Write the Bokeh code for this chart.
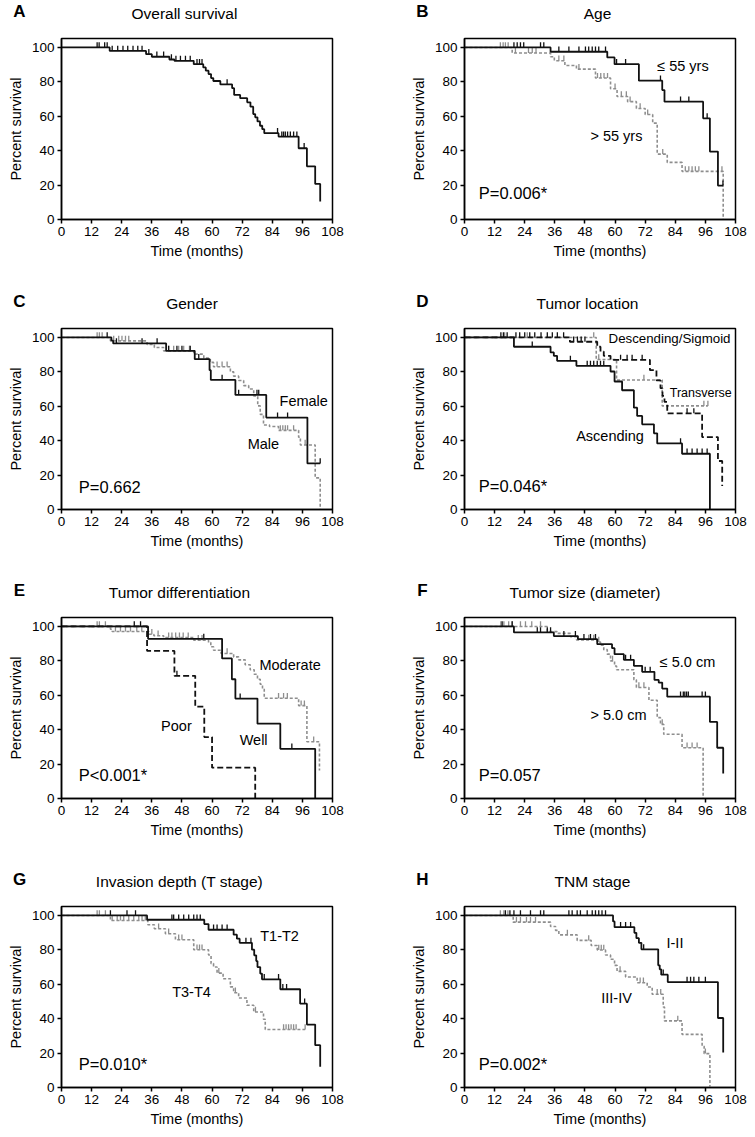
import numpy as np
from bokeh.plotting import figure
from bokeh.layouts import gridplot
from bokeh.models import Label, FixedTicker, Range1d, LinearAxis, Title
from bokeh.embed import file_html
from bokeh.resources import INLINE

# ---------------- data (months, percent survival) ----------------
x_ticks = [0, 12, 24, 36, 48, 60, 72, 84, 96, 108]
y_ticks = [0, 20, 40, 60, 80, 100]

# A  Overall survival
A_t = [19.2, 33.7, 36.0, 43.0, 45.0, 52.7, 56.5, 57.5, 58.6, 59.6, 60.5, 63.3, 68.0, 68.8, 71.2, 74.0, 75.3, 76.4,
       77.2, 78.1, 79.1, 80.0, 80.8, 86.5, 94.5, 97.8, 101.1, 103.1]
A_s = [98.0, 96.1, 94.6, 93.0, 92.2, 90.3, 88.4, 86.5, 84.5, 82.2, 80.5, 78.5, 76.3, 72.4, 70.5, 68.1, 65.6, 61.3,
       59.4, 57.0, 54.5, 52.5, 50.2, 48.2, 41.4, 30.9, 20.7, 10.4]
A_c = [14.2, 15.0, 17.2, 18.2, 20.2, 22.4, 24.5, 26.4, 28.5, 30.4, 32.1, 34.8, 38.0, 40.7, 43.8, 45.6, 47.4, 49.4,
       51.3, 54.0, 55.0, 56.0, 66.0, 86.1, 87.8, 88.5, 89.2, 90.1, 91.2, 92.5, 93.8, 96.7]

# B  Age
B_young_t = [34.3, 56.9, 59.8, 69.5, 78.8, 79.7, 95.1, 97.8, 101.0]
B_young_s = [97.5, 94.2, 90.3, 80.7, 75.2, 68.5, 58.8, 39.5, 19.7]
B_young_c = [19.7, 21.0, 22.3, 23.6, 30.3, 31.6, 37.6, 41.6, 45.6, 48.2, 49.5, 50.9, 52.2, 53.5, 56.2, 60.6, 64.2,
             78.1, 86.1, 89.4, 96.7, 103.0]
B_old_t = [19.0, 34.3, 35.8, 40.0, 44.6, 52.2, 58.2, 60.8, 65.0, 68.5, 72.0, 75.0, 76.8, 80.8, 86.7, 103.1]
B_old_s = [96.8, 94.6, 92.3, 89.5, 87.4, 82.2, 76.0, 71.5, 68.5, 64.5, 61.0, 56.0, 38.0, 33.2, 28.0, 0.0]
B_old_c = [14.3, 15.4, 16.3, 17.4, 20.3, 25.5, 27.0, 28.5, 37.6, 39.6, 45.6, 53.0, 54.3, 55.6, 57.0, 60.0, 62.5,
           64.5, 66.0, 70.0, 73.0, 79.0, 88.0, 89.4, 90.7, 92.0, 93.4, 102.6]

# C  Gender
C_female_t = [19.9, 20.6, 41.7, 53.1, 59.0, 59.5, 69.3, 81.6, 98.0]
C_female_s = [98.1, 96.5, 92.2, 87.4, 81.0, 75.3, 66.6, 53.4, 26.8]
C_female_c = [18.2, 21.9, 32.1, 38.1, 42.7, 46.0, 48.0, 51.3, 54.7, 64.0, 70.6, 77.9, 78.6, 86.1, 90.1, 103.1]
C_male_t = [19.5, 34.1, 37.0, 40.7, 52.7, 56.7, 59.3, 60.6, 67.3, 68.6, 70.6, 72.6, 74.6, 76.6, 78.2, 79.2, 80.5,
            82.9, 86.5, 94.5, 95.2, 101.1, 103.1]
C_male_s = [98.0, 96.0, 94.2, 92.2, 90.3, 88.0, 85.5, 83.0, 80.0, 77.5, 75.0, 72.0, 70.0, 66.0, 60.2, 55.3, 49.1,
            48.2, 46.0, 42.0, 37.5, 18.4, 0.0]
C_male_c = [14.2, 15.1, 16.2, 20.8, 22.8, 24.1, 25.5, 26.8, 42.7, 44.7, 46.7, 48.7, 51.0, 62.0, 64.0, 66.0, 87.2,
            88.2, 89.2, 90.1, 92.5, 97.1]

# D  Tumor location
D_asc_t = [19.7, 34.3, 35.6, 36.9, 44.6, 58.2, 59.8, 62.8, 67.5, 68.8, 70.8, 75.5, 76.8, 86.7, 97.8]
D_asc_s = [94.6, 91.3, 89.3, 86.4, 83.5, 80.2, 74.4, 69.3, 59.2, 54.4, 49.5, 44.3, 38.4, 32.4, 0.0]
D_asc_c = [27.0, 42.2, 48.9, 50.2, 51.5, 52.9, 54.2, 55.5, 86.1, 88.7, 90.7, 92.7, 94.7, 96.7]
D_trans_t = [52.5, 60.6, 78.8]
D_trans_s = [87.2, 75.3, 60.2]
D_trans_c = [16.0, 25.0, 51.5, 53.5, 71.5, 95.4, 97.0]
D_desc_t = [42.0, 52.9, 54.2, 55.5, 58.2, 73.9, 76.5, 78.1, 78.9, 79.7, 80.8, 94.7, 101.0, 102.7]
D_desc_s = [97.5, 94.6, 91.8, 89.3, 87.0, 81.0, 75.1, 70.5, 66.0, 62.5, 55.9, 42.1, 28.2, 13.6]
D_desc_c = [14.5, 15.5, 17.0, 20.5, 22.0, 24.0, 26.0, 28.0, 30.5, 33.0, 35.0, 37.0, 39.5, 43.5, 45.0, 46.5, 48.0,
            62.2, 64.8, 66.8, 70.8, 88.7, 91.4]

# E  Tumor differentiation
E_well_t = [34.5, 64.0, 67.9, 69.3, 78.1, 87.2, 101.1]
E_well_s = [92.8, 81.4, 69.3, 58.1, 43.5, 28.9, 0.0]
E_well_c = [29.0, 31.5, 56.7, 71.2, 91.8]
E_mod_t = [19.5, 20.2, 34.8, 36.8, 40.7, 52.7, 58.6, 59.5, 60.6, 63.6, 68.6, 70.6, 73.2, 75.2, 76.8, 78.1, 79.2,
           80.1, 80.8, 94.5, 97.8, 102.8]
E_mod_s = [98.4, 97.1, 95.5, 94.6, 93.5, 92.0, 90.7, 88.2, 86.2, 84.3, 82.3, 80.6, 77.7, 74.8, 72.2, 69.3, 66.4,
           63.5, 58.3, 54.0, 33.0, 16.3]
E_mod_c = [14.2, 15.1, 17.5, 21.5, 23.5, 25.5, 27.5, 30.0, 32.0, 36.0, 38.5, 42.7, 44.0, 45.5, 47.0, 48.5, 50.5,
           54.5, 56.0, 66.0, 86.5, 88.5, 90.0, 95.5, 96.8, 100.5]
E_poor_t = [34.1, 45.0, 53.3, 56.9, 60.0, 77.2]
E_poor_s = [85.8, 71.3, 53.4, 35.7, 17.9, 0.0]
E_poor_c = [46.0]

# F  Tumor size
F_small_t = [19.7, 35.6, 45.2, 52.9, 58.8, 59.8, 63.5, 67.5, 70.8, 75.7, 77.4, 78.8, 80.8, 97.8, 100.7, 103.1]
F_small_s = [96.5, 94.4, 92.6, 89.7, 87.4, 83.9, 80.6, 77.1, 73.6, 68.9, 67.4, 63.9, 59.2, 44.5, 29.5, 14.6]
F_small_c = [15.0, 19.0, 29.0, 30.3, 33.0, 34.3, 39.6, 44.2, 47.6, 50.2, 52.2, 64.2, 66.2, 72.0, 74.0, 86.1, 87.2,
             87.8, 88.5, 89.2, 94.7, 96.0]
F_big_t = [33.0, 36.9, 42.2, 44.6, 52.9, 54.2, 55.5, 56.9, 58.2, 59.8, 60.6, 67.5, 68.5, 73.5, 76.8, 78.1, 79.4,
           86.7, 95.1]
F_big_s = [97.0, 96.0, 94.0, 92.2, 91.0, 89.1, 86.5, 83.9, 80.0, 77.0, 74.8, 69.0, 64.5, 57.1, 47.0, 43.1, 37.3,
           29.5, 0.0]
F_big_c = [14.5, 15.7, 17.6, 19.0, 22.3, 24.3, 26.8, 30.3, 49.5, 51.5, 53.5, 59.0, 69.5, 71.5, 78.8, 88.7, 90.7,
           92.7]

# G  Invasion depth
G_t12_t = [34.1, 56.9, 58.6, 68.6, 69.9, 71.0, 75.9, 76.8, 77.6, 78.1, 79.2, 79.9, 87.2, 95.1, 97.8, 101.1, 103.1]
G_t12_s = [97.5, 95.0, 91.7, 88.8, 86.5, 84.1, 80.1, 76.8, 73.5, 70.0, 66.2, 62.9, 57.1, 48.7, 36.6, 24.6, 12.0]
G_t12_c = [19.5, 26.1, 29.5, 44.0, 44.7, 46.7, 48.7, 50.7, 52.7, 54.0, 55.3, 60.6, 62.0, 64.0, 66.0, 73.5, 75.5,
           80.8, 86.5, 88.2, 89.7, 96.9]
G_t34_t = [19.5, 34.4, 37.0, 41.4, 45.4, 52.7, 58.6, 59.6, 60.6, 62.0, 64.4, 67.3, 68.6, 70.6, 73.9, 76.6, 80.5,
           81.2]
G_t34_s = [97.1, 94.6, 92.3, 89.4, 85.9, 80.1, 77.0, 72.0, 70.0, 66.5, 63.2, 58.5, 55.1, 52.0, 47.8, 43.9, 39.7,
           33.7]
G_t34_c = [14.2, 15.1, 17.5, 20.2, 22.2, 23.5, 24.8, 26.8, 28.8, 30.8, 32.1, 33.4, 38.7, 42.7, 46.7, 48.0, 54.0,
           55.0, 56.0, 62.7, 69.3, 77.3, 88.5, 89.5, 90.5, 91.5, 92.5, 93.5, 97.1]

# H  TNM stage
H_early_t = [59.2, 59.8, 67.7, 68.5, 69.5, 70.5, 77.2, 77.8, 78.4, 81.0, 101.0, 103.1]
H_early_s = [96.5, 93.2, 89.9, 86.8, 84.1, 80.3, 71.0, 68.7, 65.6, 61.3, 40.4, 20.3]
H_early_c = [16.3, 18.1, 19.7, 22.3, 26.3, 30.3, 31.6, 41.6, 42.9, 44.9, 46.2, 48.9, 50.9, 52.2, 53.5, 54.8, 56.2,
             62.2, 64.2, 66.2, 71.4, 79.2, 88.7, 90.1, 91.4, 93.4, 96.0]
H_late_t = [19.4, 34.3, 36.3, 37.6, 44.9, 50.5, 52.9, 56.2, 58.2, 59.8, 60.8, 64.2, 68.8, 72.8, 74.8, 79.2, 79.7,
            86.7, 94.7, 95.5, 97.8]
H_late_s = [96.1, 93.6, 91.3, 88.7, 85.5, 82.5, 79.9, 77.0, 74.5, 71.0, 67.5, 64.2, 60.9, 58.4, 54.2, 46.8, 38.7,
            30.9, 24.0, 19.7, 0.0]
H_late_c = [14.3, 15.7, 17.3, 20.7, 22.3, 24.7, 26.3, 28.3, 41.0, 49.5, 53.5, 54.5, 55.5, 62.0, 70.0, 71.3, 76.8,
            78.2, 85.0, 96.0]

# ---------------- styling ----------------
FONT = "Liberation Sans"
BLACK = "#111111"
GRAY = "#8e8e8e"
SOLID = dict(color=BLACK, dash="solid", width=1.8)
DASHB = dict(color=BLACK, dash="6 3", width=1.8)
DOTG = dict(color=GRAY, dash="3 2", width=1.6)

W = [377, 378]
H = [290, 289, 289, 268]
BL = [61, 87]
BR = [45, 20]
BT = 38
FH = 181
NAME_STANDOFF = 17
LETTER_STANDOFF = -39
LETTER_SIZE = 17


def km_path(evt_t, evt_s, cens):
    end = max(evt_t[-1], max(cens) if cens else 0.0)
    xs, ys, cur = [0.0], [100.0], 100.0
    for t, s in zip(evt_t, evt_s):
        xs += [t, t]
        ys += [cur, s]
        cur = s
    xs.append(end)
    ys.append(cur)
    return xs, ys


def surv_at(evt_t, evt_s, times):
    idx = np.searchsorted(np.array(evt_t), np.array(times), side="right")
    full = np.concatenate([[100.0], np.array(evt_s)])
    return full[idx]


def name_axis(tick, text):
    ax = LinearAxis(ticker=FixedTicker(ticks=[tick]), bounds=(tick - 0.5, tick + 0.5),
                    major_label_overrides={tick: text})
    ax.axis_line_color = None
    ax.major_tick_line_color = None
    ax.minor_tick_line_color = None
    ax.major_tick_out = 0
    ax.major_tick_in = 0
    ax.minor_tick_out = 0
    ax.minor_tick_in = 0
    ax.major_label_standoff = NAME_STANDOFF
    ax.major_label_text_font = FONT
    ax.major_label_text_font_size = "15.5px"
    ax.major_label_text_color = "black"
    return ax


def make_panel(letter, letter_w, title, title_x, row, col, series, texts):
    p = figure(width=W[col], height=H[row], x_range=Range1d(0, 108), y_range=Range1d(0, 105.2),
               output_backend="svg", toolbar_location=None, title=None,
               min_border_left=BL[col], min_border_right=BR[col], min_border_top=BT,
               min_border_bottom=H[row] - BT - FH)
    p.grid.visible = False
    p.outline_line_color = "black"
    p.outline_line_width = 1.5
    p.outline_line_alpha = 1.0
    xa = p.below[0]
    ya = p.left[0]
    xa.ticker = FixedTicker(ticks=x_ticks)
    ya.ticker = FixedTicker(ticks=y_ticks)
    for ax in (xa, ya):
        ax.axis_line_color = "black"
        ax.axis_line_width = 1.5
        ax.major_tick_line_color = "black"
        ax.major_tick_line_width = 1.5
        ax.major_tick_out = 4
        ax.major_tick_in = 0
        ax.minor_tick_line_color = None
        ax.major_label_text_font = FONT
        ax.major_label_text_font_size = "13.5px"
        ax.major_label_text_color = "black"
        ax.major_label_standoff = 3
        ax.axis_label_text_font = FONT
        ax.axis_label_text_font_size = "14.5px"
        ax.axis_label_text_font_style = "normal"
        ax.axis_label_text_color = "black"
    xa.axis_label = "Time (months)"
    xa.axis_label_standoff = 4
    ya.axis_label = "Percent survival"
    ya.axis_label_standoff = 5

    # panel title (tick label of a bare axis) and panel letter (title pulled down onto the same line)
    p.add_layout(name_axis(title_x, title), "above")
    p.add_layout(Title(text=letter, align="left", offset=-42 - letter_w * LETTER_SIZE / 2,
                       vertical_align="bottom", standoff=LETTER_STANDOFF, text_font=FONT,
                       text_font_size=f"{LETTER_SIZE}px", text_font_style="bold", text_color="black"),
                 "above")

    for evt_t, evt_s, cens, st in series:
        xs, ys = km_path(evt_t, evt_s, cens)
        p.line(xs, ys, line_color=st["color"], line_width=st["width"], line_dash=st["dash"])
        if cens:
            cy = surv_at(evt_t, evt_s, cens)
            p.segment(x0=cens, y0=cy, x1=cens, y1=cy + 3.0, line_color=st["color"], line_width=1.3)

    for (tx, ty, txt, size) in texts:
        p.add_layout(Label(x=tx, y=ty, text=txt, text_font=FONT, text_font_size=size,
                           text_baseline="middle", text_align="left", text_color="black"))
    return p


pA = make_panel("A", 0.722, "Overall survival", 49, 0, 0,
                [(A_t, A_s, A_c, SOLID)], [])
pB = make_panel("B", 0.722, "Age", 53, 0, 1,
                [(B_old_t, B_old_s, B_old_c, DOTG), (B_young_t, B_young_s, B_young_c, SOLID)],
                [(76.8, 89.4, "\u2264 55 yrs", "14.5px"), (50.2, 48.7, "> 55 yrs", "14.5px"),
                 (5.7, 15.3, "P=0.006*", "16.5px")])
pC = make_panel("C", 0.722, "Gender", 52, 1, 0,
                [(C_male_t, C_male_s, C_male_c, DOTG), (C_female_t, C_female_s, C_female_c, SOLID)],
                [(86.9, 63.1, "Female", "14.5px"), (74.2, 37.9, "Male", "14.5px"),
                 (6.9, 13.2, "P=0.662", "16.5px")])
pD = make_panel("D", 0.722, "Tumor location", 49, 1, 1,
                [(D_trans_t, D_trans_s, D_trans_c, DOTG), (D_desc_t, D_desc_s, D_desc_c, DASHB),
                 (D_asc_t, D_asc_s, D_asc_c, SOLID)],
                [(57.4, 99.4, "Descending/Sigmoid", "13.3px"), (81.8, 68.0, "Transverse", "12.5px"),
                 (44.5, 42.7, "Ascending", "14.5px"), (5.7, 13.6, "P=0.046*", "16.5px")])
pE = make_panel("E", 0.667, "Tumor differentiation", 47, 2, 0,
                [(E_mod_t, E_mod_s, E_mod_c, DOTG), (E_poor_t, E_poor_s, E_poor_c, DASHB),
                 (E_well_t, E_well_s, E_well_c, SOLID)],
                [(78.9, 77.7, "Moderate", "14.5px"), (39.7, 42.1, "Poor", "14.5px"),
                 (71.0, 34.0, "Well", "14.5px"), (6.9, 13.6, "P<0.001*", "16.5px")])
pF = make_panel("F", 0.611, "Tumor size (diameter)", 48, 2, 1,
                [(F_big_t, F_big_s, F_big_c, DOTG), (F_small_t, F_small_s, F_small_c, SOLID)],
                [(77.8, 79.6, "\u2264 5.0 cm", "14.5px"), (50.2, 48.5, "> 5.0 cm", "14.5px"),
                 (5.7, 13.6, "P=0.057", "16.5px")])
pG = make_panel("G", 0.778, "Invasion depth (T stage)", 47, 3, 0,
                [(G_t34_t, G_t34_s, G_t34_c, DOTG), (G_t12_t, G_t12_s, G_t12_c, SOLID)],
                [(79.2, 88.0, "T1-T2", "14.5px"), (44.1, 55.5, "T3-T4", "14.5px"),
                 (6.9, 13.9, "P=0.010*", "16.5px")])
pH = make_panel("H", 0.722, "TNM stage", 51, 3, 1,
                [(H_late_t, H_late_s, H_late_c, DOTG), (H_early_t, H_early_s, H_early_c, SOLID)],
                [(80.5, 84.1, "I-II", "14.5px"), (54.5, 52.0, "III-IV", "14.5px"),
                 (5.7, 13.9, "P=0.002*", "16.5px")])

grid = gridplot([[pA, pB], [pC, pD], [pE, pF], [pG, pH]], toolbar_location=None)

open("out.html", "w").write(file_html(grid, INLINE))
